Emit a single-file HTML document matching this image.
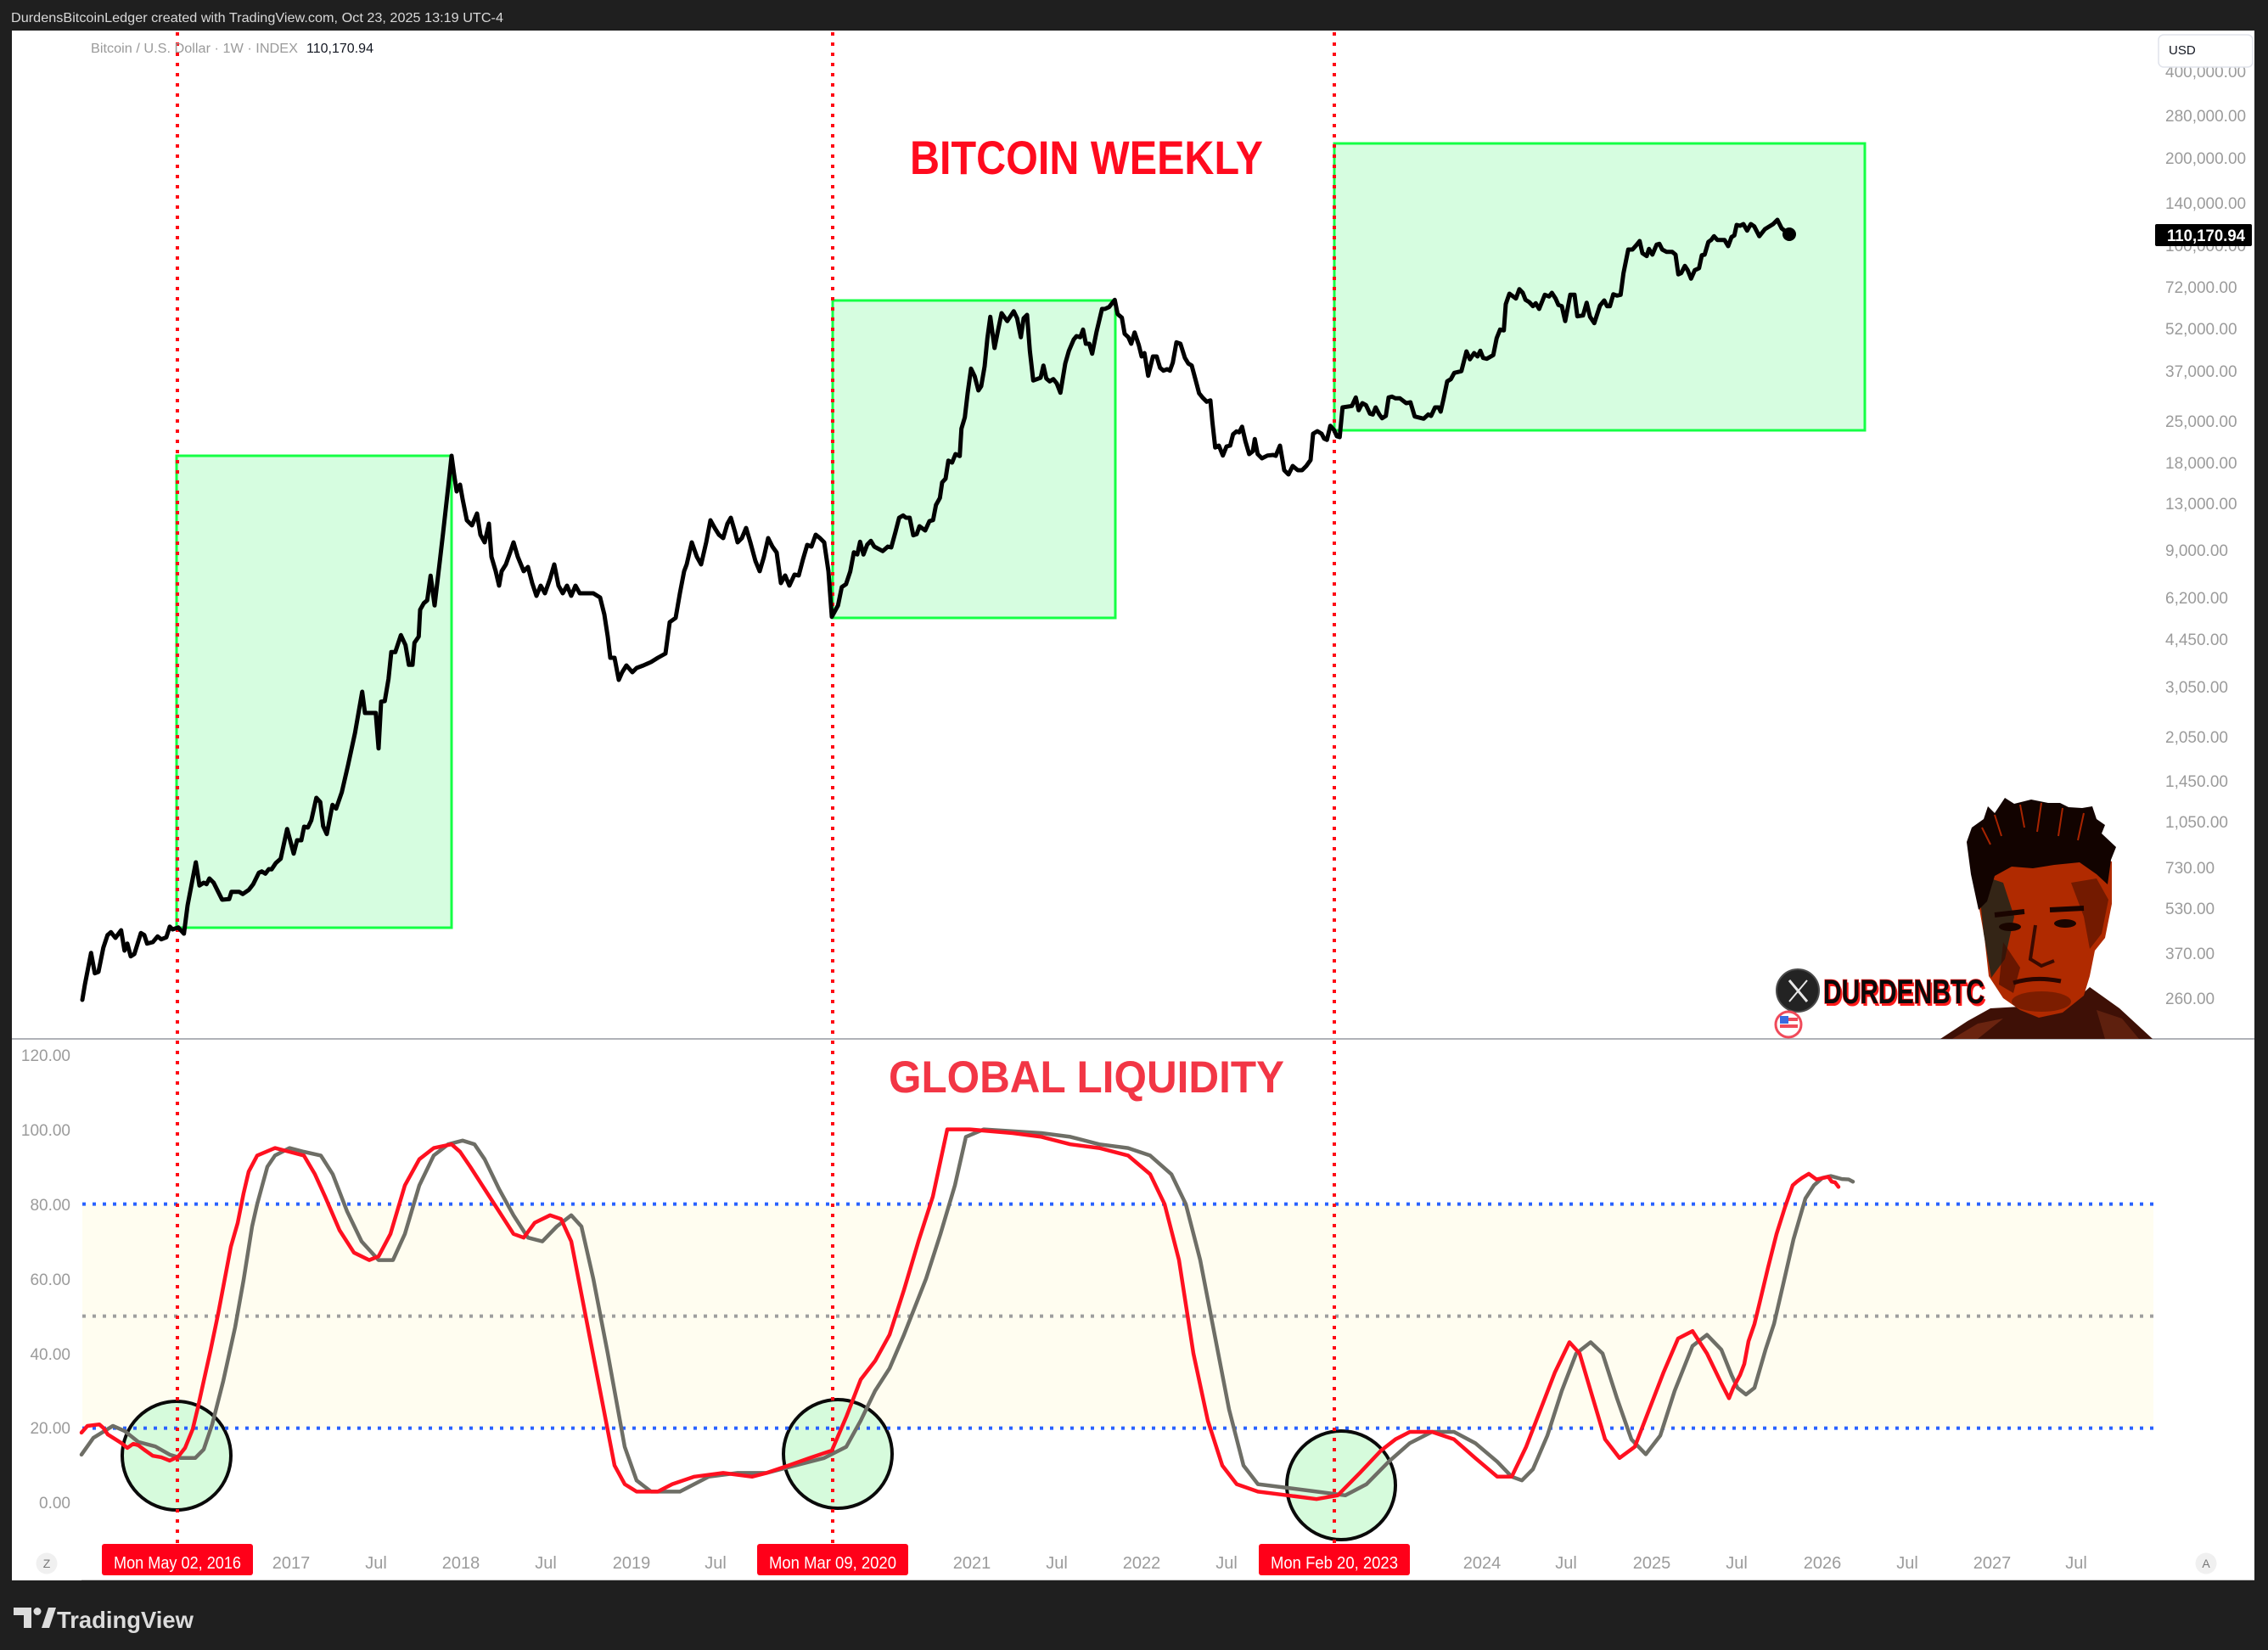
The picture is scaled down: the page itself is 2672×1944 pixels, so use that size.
<!DOCTYPE html>
<html>
<head>
<meta charset="utf-8">
<style>
html,body{margin:0;padding:0;background:#1f1f1f;}
svg{display:block;}
text{font-family:"Liberation Sans",sans-serif;}
</style>
</head>
<body>
<svg width="2672" height="1944" viewBox="0 0 2672 1944" xmlns="http://www.w3.org/2000/svg">
  <!-- frame -->
  <rect x="0" y="0" width="2672" height="1944" fill="#1f1f1f"/>
  <rect x="14" y="36" width="2642" height="1826" fill="#ffffff"/>

  <!-- header -->
  <text x="13" y="26" font-size="16" fill="#d8d8d8" textLength="580" lengthAdjust="spacingAndGlyphs">DurdensBitcoinLedger created with TradingView.com, Oct 23, 2025 13:19 UTC-4</text>

  <!-- lower pane yellow band -->
  <rect x="97" y="1418.6" width="2440" height="264" fill="#fffdf0"/>

  <!-- green boxes -->
  <rect x="208" y="537" width="324" height="556" fill="#d6fde0" stroke="#14ff44" stroke-width="3"/>
  <rect x="981" y="354" width="333" height="374" fill="#d6fde0" stroke="#14ff44" stroke-width="3"/>
  <rect x="1572" y="169" width="625" height="338" fill="#d6fde0" stroke="#14ff44" stroke-width="3"/>

  <!-- circles -->
  <circle cx="208" cy="1715" r="64" fill="#d6fbdc" stroke="#0a0a0a" stroke-width="4"/>
  <circle cx="987" cy="1713" r="64" fill="#d6fbdc" stroke="#0a0a0a" stroke-width="4"/>
  <circle cx="1580" cy="1750" r="64" fill="#d6fbdc" stroke="#0a0a0a" stroke-width="4"/>

  <!-- horizontal dotted levels -->
  <line x1="97" y1="1418.6" x2="2537" y2="1418.6" stroke="#2962ff" stroke-width="4" stroke-dasharray="4 8"/>
  <line x1="97" y1="1682.6" x2="2537" y2="1682.6" stroke="#2962ff" stroke-width="4" stroke-dasharray="4 8"/>
  <line x1="97" y1="1550.6" x2="2537" y2="1550.6" stroke="#9e9e9e" stroke-width="4" stroke-dasharray="4 8"/>

  <!-- red vertical dotted lines -->
  <line x1="209" y1="38" x2="209" y2="1819" stroke="#ff0a14" stroke-width="4" stroke-dasharray="4 8"/>
  <line x1="981" y1="38" x2="981" y2="1819" stroke="#ff0a14" stroke-width="4" stroke-dasharray="4 8"/>
  <line x1="1572" y1="38" x2="1572" y2="1819" stroke="#ff0a14" stroke-width="4" stroke-dasharray="4 8"/>

  <!-- pane divider -->
  <line x1="14" y1="1224" x2="2656" y2="1224" stroke="#9598a1" stroke-width="1.5"/>

  <!-- portrait -->
  <g>
    <path d="M2286,1224 L2318,1203 L2345,1188 L2380,1186 L2430,1192 L2462,1163 L2497,1188 L2536,1224 Z" fill="#3e1006"/>
    <path d="M2300,1224 L2330,1206 L2360,1200 L2330,1224 Z" fill="#6a2410"/>
    <path d="M2470,1190 L2500,1200 L2520,1224 L2480,1224 Z" fill="#5e200e"/>
    <path d="M2323,1015 L2330,1060 L2338,1105 L2343,1150 L2360,1176 L2380,1190 L2402,1199 L2430,1193 L2455,1173 L2462,1150 L2468,1120 L2480,1105 L2488,1065 L2488,1015 L2440,1004 L2380,1008 Z" fill="#b02a00"/>
    <path d="M2330,1030 L2360,1040 L2373,1080 L2362,1130 L2346,1152 L2337,1100 Z" fill="#1e241a" opacity="0.85"/>
    <path d="M2440,1040 L2470,1035 L2484,1060 L2476,1100 L2462,1118 L2455,1080 Z" fill="#5a1400" opacity="0.7"/>
    <path d="M2360,1110 L2380,1140 L2372,1170 L2355,1160 Z" fill="#3a0c00" opacity="0.6"/>
    <path d="M2317,992 L2323,975 L2337,965 L2342,950 L2350,958 L2362,940 L2373,947 L2393,942 L2413,946 L2427,946 L2437,951 L2453,952 L2465,950 L2470,965 L2480,972 L2476,982 L2493,998 L2487,1013 L2483,1042 L2470,1030 L2450,1016 L2420,1019 L2395,1023 L2370,1021 L2350,1032 L2341,1062 L2331,1072 L2322,1030 Z" fill="#120300"/>
    <path d="M2350,960 L2358,985 M2380,948 L2385,975 M2405,946 L2400,980 M2430,952 L2425,985 M2455,958 L2448,990 M2335,975 L2345,995" stroke="#a82400" stroke-width="2" fill="none"/>
    <path d="M2350,1078 L2385,1074" stroke="#1a0400" stroke-width="6"/>
    <path d="M2415,1072 L2455,1070" stroke="#1a0400" stroke-width="6"/>
    <ellipse cx="2368" cy="1092" rx="13" ry="5" fill="#1a0500"/>
    <ellipse cx="2433" cy="1088" rx="13" ry="5" fill="#1a0500"/>
    <path d="M2398,1090 L2392,1130 L2405,1138 L2420,1132" stroke="#3a0a00" stroke-width="4" fill="none"/>
    <path d="M2372,1158 Q2398,1150 2428,1156" stroke="#2a0600" stroke-width="5" fill="none"/>
    <ellipse cx="2405" cy="1180" rx="35" ry="12" fill="#5a1600" opacity="0.6"/>
  </g>

  <!-- X badge + name -->
  <circle cx="2118" cy="1167" r="25" fill="#232323" stroke="#4a4a4a" stroke-width="2"/>
  <line x1="2108" y1="1155" x2="2129" y2="1180" stroke="#e6e6e6" stroke-width="3"/>
  <line x1="2129" y1="1155" x2="2108" y2="1180" stroke="#e6e6e6" stroke-width="2"/>
  <text x="2150" y="1185" font-size="40" font-weight="bold" fill="#ff1a1a" textLength="190" lengthAdjust="spacingAndGlyphs">DURDENBTC</text>
  <text x="2148" y="1182" font-size="40" font-weight="bold" fill="#0a0a0a" stroke="#ff1a1a" stroke-width="1.5" paint-order="stroke" textLength="190" lengthAdjust="spacingAndGlyphs">DURDENBTC</text>
  <circle cx="2107" cy="1207" r="15" fill="#ffffff" stroke="#f04a5a" stroke-width="3"/>
  <rect x="2097" y="1199" width="21" height="4" fill="#f04a5a"/>
  <rect x="2097" y="1207" width="21" height="4" fill="#f04a5a"/>
  <rect x="2097" y="1197" width="10" height="9" fill="#3a6adf"/>

  <!-- price line -->
  <polyline fill="none" stroke="#000" stroke-width="5" stroke-linejoin="round" stroke-linecap="round" points="97,1178 100,1160 107.3,1122.7 111.7,1146.7 116,1145 121.7,1116.7 126.7,1101.7 130.7,1098.3 136,1105 142.7,1096 146.7,1120 150,1111.7 154,1126.7 158.3,1124 166,1099.3 170,1101.7 173.3,1111.7 180,1110 185.7,1103.3 190,1106.7 196,1104.3 200,1091.7 203.3,1095 210,1092.7 216.7,1100 221,1066.7 230.7,1016 235,1043.3 240,1040 243.3,1041.7 246.7,1035 251.7,1040 261.7,1060 270,1059.3 272.7,1050.7 281.7,1050.7 286,1053.3 293.3,1048.3 298.3,1041.7 305,1028.3 308.3,1026.7 312.7,1029.3 316.7,1024 320,1024.3 325,1016.7 330.7,1011.7 338.3,976.7 346,1005.7 350,990 355,990 358.3,974 362.7,975 366.7,966.7 372.7,940 377.3,945 380.7,973.3 385,982.7 391.7,948.3 396,952.7 402.7,933.3 410,901.7 418.3,863.3 426.7,815 430,840 442.7,840 446,881.7 449,826.7 453.3,826 457.7,800 461,768.3 465.7,768.3 472.3,748.3 477.7,760 481.7,783.3 486,783.3 488.3,757.3 493.3,750 495,718.3 499.3,710.7 503.3,707.3 507.3,678.3 512,713.3 518.3,660 522,628 526,592 529,565 532,537 535,559 538,579 542,571 545,588 550,613 556,619 562,605 566,630 571,639 576,617 579,656 584,673 588,690 591,673 596,665 602,648 605,639 610,656 617,673 622,668 627,687 632,702 637,690 642,699 648,682 653,665 658,690 663,699 668,690 673,702 678,690 683,699 690,699 699,699 707,704 712,724 716,750 719,775 724,775 729,801 733,792 738,784 745,792 750,787 758,784 767,780 775,775 784,770 789,733 796,728 801,699 806,673 809,665 815,639 821,656 826,665 832,639 837,613 842,622 847,630 852,634 857,617 861,610 866,627 869,639 874,634 879,622 884,639 890,661 895,673 900,656 905,634 910,644 915,651 920,687 925,678 930,690 936,677 941,678 946,659 951,642 956,644 961,630 966,634 971,639 976,673 980,726.7 987.3,713.3 991.7,691.7 996.7,688.3 1001.7,673.3 1006,650.7 1010,653.3 1013.3,638.3 1017.3,653.3 1021.7,641.7 1026,637.3 1030,644 1040,649.3 1046,644 1050,645 1055,626.7 1059.3,610 1064,607.3 1067.3,610 1071.7,610 1076,630.7 1080,629.3 1083.3,620 1090,625 1095,614 1099.3,612.7 1102.7,595 1107.3,586.7 1110,568.3 1114,564 1117.3,542.7 1121.7,545 1125.7,535 1130.7,537.3 1132.7,505 1136.7,491.7 1140,463.3 1144,434.3 1148.3,443.3 1152.7,460 1156,455 1160,431.7 1163.3,398.3 1166.7,373.3 1171.7,410 1176,388.3 1180,369 1186.7,378.3 1194.3,366.7 1198.3,375 1202.7,397.3 1206,375 1210,371 1213.3,413.3 1217.3,448.3 1226,445 1229.3,430.7 1232.7,446 1236.7,449.3 1241,446.7 1245,451.7 1249.3,462.7 1255,428.3 1259.3,413.3 1265,400 1268.3,396 1272.7,397.3 1276,388.3 1279.3,405 1283.3,405 1286.7,416.7 1291.7,391.7 1298.3,364 1301.7,364 1306.7,361.7 1313.3,353.3 1316.7,370 1321.7,374.3 1325,393.3 1329.3,397.3 1332.7,405 1336.7,391.7 1341.7,406.7 1345,420 1348.3,416 1352.7,442.7 1358.3,420 1362.7,420 1366.7,433.3 1370.7,436.7 1375,435 1378.3,436.7 1381.7,427.3 1386,403.3 1390.7,405 1396,421.7 1400,428.3 1404,430.7 1408.3,446.7 1412.7,463.3 1416.7,468.3 1421.7,473.3 1426,471.7 1428.3,496.7 1431.7,527.3 1436,525 1440.7,536.7 1445,526 1449.3,525 1452.7,511.7 1456.7,508.3 1460,509.3 1463.3,502.7 1467.3,520 1471.7,535 1476,531.7 1478.3,517.3 1481.7,535 1486.7,540 1493.3,536.7 1500,536 1503,537 1508,525 1513,554 1518,559 1523,549 1529,554 1534,554 1539,549 1544,542 1547,511 1552,508 1557,511 1560,516.7 1563.3,518.3 1567.3,501.7 1571.7,506.7 1575,514 1578.3,515 1581.7,480 1592.7,478.3 1597.3,468.3 1600.7,483.3 1605,475 1609.3,477.3 1614,487.3 1617.3,488.3 1620.7,480 1625,488.3 1628.3,492.7 1632.7,490 1636,468.3 1640,467.3 1644,469.3 1649.3,469.3 1656.7,475 1661.7,474 1666.7,490.7 1677.3,493.3 1682.7,488.3 1686,490 1690.7,480 1695,480 1697.3,485 1700.7,470 1705,449.3 1709.3,446.7 1713.3,439.3 1721.7,437.3 1727.7,414 1731.7,423.3 1736.7,416 1740.7,420 1744,413.3 1747.3,421.7 1751.7,422.7 1759.3,418.3 1763.3,398.3 1767.3,388.3 1771.7,389.3 1774,358.3 1778.3,346 1786,351.7 1790,340.7 1794,345 1797.3,353.3 1801.7,356 1806,360.7 1809.3,357.3 1813.3,364 1820,347.3 1825,349.3 1828.3,345 1832.7,351.7 1836,359.3 1840,360.7 1844,378.3 1850,347.3 1855,347.3 1858.3,372.7 1865,371.7 1869.3,356.7 1873.3,373.3 1878.3,380.7 1885,360 1890,354 1893.3,360.7 1896.7,360.7 1900.7,346.7 1905,348.3 1909.3,347.3 1912.7,321.7 1918.3,294 1923.3,294 1928.3,288.3 1931.7,284 1935,298.3 1940,301.7 1942.7,293.3 1946.7,300 1951.7,288.3 1955,287.3 1958.3,294 1963.3,296.7 1970,296.7 1974,300 1977.3,323.3 1980.7,321.7 1985,313.3 1988.3,318.3 1992.3,328.3 1996.7,318.3 2001.7,316 2005,300.7 2008.3,300 2012.7,285 2016,282.7 2019.3,278.3 2023.3,282.7 2031.7,282.7 2036,290 2040,279.3 2043.3,277.3 2046,265 2050,266 2054,264 2058.3,271.7 2062.7,264 2066.7,266.7 2072.7,278.3 2079.3,270 2089,264 2094,259 2099,269 2104,273 2108,276"/>
  <circle cx="2108" cy="276" r="8" fill="#000"/>

  <!-- liquidity lines (x, value) -->
  <g transform="translate(0,1770.6) scale(1,-4.4)">
    <polyline fill="none" stroke="#6e6e66" stroke-width="4.5" stroke-linejoin="round" stroke-linecap="round" vector-effect="non-scaling-stroke" points="96,12.9 110,17.4 133,20.6 147,19.2 163,16.3 183,15.1 200,12.9 213,12 230,12 240,14.3 250,21 263,32.6 277,47 287,59.7 297,74 303,80 315,90 324,93 341,95 358,94 378,93 392,88 409,78 426,70 446,65 463,65 477,72 494,85 511,93 528,96 545,97 559,96 571,92 588,84 605,77 622,71 639,70 656,74 673,77 685,74 699,60 716,40 736,15 750,6 767,3 801,3 835,7 869,8 903,8 937,10 971,12 997,15 1014,22 1031,30 1048,36 1065,45 1091,60 1108,72 1125,85 1138,98 1159,100 1227,99 1261,98 1295,96 1329,95 1355,93 1380,88 1397,80 1414,65 1431,45 1448,25 1465,10 1482,5 1517,4 1551,3 1585,2 1610,5 1636,11 1661,16 1687,19 1713,19 1738,16 1764,11 1781,7 1793,6 1806,9 1823,18 1840,30 1857,40 1874,43 1888,40 1905,28 1922,17 1939,13 1956,18 1973,30 1994,42 2011,45 2028,41 2040,34.2 2047,30.8 2057,29 2067,30.8 2080,41 2090,47.9 2100,57.7 2113,70.6 2127,81.5 2137,85 2147,87 2157,87.5 2170,86.7 2178,86.6 2183,86"/>
    <polyline fill="none" stroke="#ff1020" stroke-width="4.5" stroke-linejoin="round" stroke-linecap="round" vector-effect="non-scaling-stroke" points="96,18.8 103,20.6 117,21 122,20 127,18.3 143,16 150,14.7 157,15.8 163,15.4 170,14.2 180,12.6 190,12.2 200,11.3 210,12.4 218,14.7 227,19.7 233,25.4 240,32.6 248,40.8 257,50.6 263,57.8 272,68.6 280,74.9 287,82.9 293,88.7 303,93 324,95 341,94 358,93 371,88 383,82 400,73 417,67 435,65 446,66 460,72 477,85 494,92 511,95 532,96 542,94 554,90 571,84 588,78 605,72 617,71 630,75 648,77 661,76 673,70 690,50 707,30 724,10 736,5 750,3 775,3 792,5 818,7 852,8 886,7 903,8 929,10 954,12 980,14 997,23 1014,33 1031,38 1048,45 1065,57 1082,70 1099,82 1116,100 1142,100 1193,99 1227,98 1261,96 1295,95 1329,93 1355,88 1372,80 1389,65 1406,40 1423,22 1440,10 1457,5 1482,3 1517,2 1551,1 1576,2 1602,8 1627,14 1644,17 1661,19 1687,19 1713,17 1738,12 1764,7 1781,7 1798,15 1815,25 1832,35 1849,43 1861,40 1874,30 1891,17 1908,12 1926,15 1943,25 1960,35 1977,44 1994,46 2011,40 2028,32 2037,28 2042,30.8 2050,34.2 2055,37.2 2060,43.3 2067,47.9 2073,53.5 2083,63 2093,72 2103,79.2 2112,85 2117,86 2123,87 2131,88.1 2140,86.6 2148,87 2154,87.3 2158,86 2162,85.8 2166,84.6"/>
  </g>

  <!-- titles -->
  <text x="1072" y="205" font-size="56" font-weight="bold" fill="#ff0a1e" textLength="416" lengthAdjust="spacingAndGlyphs">BITCOIN WEEKLY</text>
  <text x="1047" y="1287" font-size="53" font-weight="bold" fill="#f23645" textLength="466" lengthAdjust="spacingAndGlyphs">GLOBAL LIQUIDITY</text>

  <!-- symbol legend -->
  <text x="107" y="62" font-size="15.5" fill="#9a9a9a" textLength="244" lengthAdjust="spacingAndGlyphs">Bitcoin / U.S. Dollar · 1W · INDEX</text>
  <text x="361" y="62" font-size="15.5" fill="#131722" textLength="79" lengthAdjust="spacingAndGlyphs">110,170.94</text>

  <!-- right price axis -->
  <g font-size="19" fill="#9b9b9b">
    <text x="2551" y="91">400,000.00</text>
    <text x="2551" y="143">280,000.00</text>
    <text x="2551" y="193">200,000.00</text>
    <text x="2551" y="246">140,000.00</text>
    <text x="2551" y="296">100,000.00</text>
    <text x="2551" y="345">72,000.00</text>
    <text x="2551" y="394">52,000.00</text>
    <text x="2551" y="444">37,000.00</text>
    <text x="2551" y="503">25,000.00</text>
    <text x="2551" y="552">18,000.00</text>
    <text x="2551" y="600">13,000.00</text>
    <text x="2551" y="655">9,000.00</text>
    <text x="2551" y="711">6,200.00</text>
    <text x="2551" y="760">4,450.00</text>
    <text x="2551" y="816">3,050.00</text>
    <text x="2551" y="875">2,050.00</text>
    <text x="2551" y="927">1,450.00</text>
    <text x="2551" y="975">1,050.00</text>
    <text x="2551" y="1029">730.00</text>
    <text x="2551" y="1077">530.00</text>
    <text x="2551" y="1130">370.00</text>
    <text x="2551" y="1183">260.00</text>
  </g>
  <!-- USD box -->
  <rect x="2543" y="41" width="111" height="38" rx="6" fill="#ffffff" stroke="#e0e3eb" stroke-width="1.5"/>
  <text x="2555" y="64" font-size="15" fill="#131722">USD</text>
  <!-- last price label -->
  <rect x="2539" y="264" width="114" height="26" rx="2" fill="#000000"/>
  <text x="2553" y="284" font-size="19" font-weight="bold" fill="#ffffff" textLength="92" lengthAdjust="spacingAndGlyphs">110,170.94</text>

  <!-- left axis lower pane -->
  <g font-size="19" fill="#9b9b9b" text-anchor="end">
    <text x="83" y="1250">120.00</text>
    <text x="83" y="1338">100.00</text>
    <text x="83" y="1426">80.00</text>
    <text x="83" y="1514">60.00</text>
    <text x="83" y="1602">40.00</text>
    <text x="83" y="1689">20.00</text>
    <text x="83" y="1777">0.00</text>
  </g>

  <!-- time axis -->
  <g font-size="20" fill="#9b9b9b" text-anchor="middle">
    <text x="343" y="1848">2017</text>
    <text x="443" y="1848">Jul</text>
    <text x="543" y="1848">2018</text>
    <text x="643" y="1848">Jul</text>
    <text x="744" y="1848">2019</text>
    <text x="843" y="1848">Jul</text>
    <text x="1145" y="1848">2021</text>
    <text x="1245" y="1848">Jul</text>
    <text x="1345" y="1848">2022</text>
    <text x="1445" y="1848">Jul</text>
    <text x="1746" y="1848">2024</text>
    <text x="1845" y="1848">Jul</text>
    <text x="1946" y="1848">2025</text>
    <text x="2046" y="1848">Jul</text>
    <text x="2147" y="1848">2026</text>
    <text x="2247" y="1848">Jul</text>
    <text x="2347" y="1848">2027</text>
    <text x="2446" y="1848">Jul</text>
  </g>
  <!-- date boxes -->
  <rect x="120" y="1819" width="178" height="37" rx="3" fill="#ff0019"/>
  <text x="209" y="1848" font-size="20" fill="#ffffff" text-anchor="middle" textLength="150" lengthAdjust="spacingAndGlyphs">Mon May 02, 2016</text>
  <rect x="892" y="1819" width="178" height="37" rx="3" fill="#ff0019"/>
  <text x="981" y="1848" font-size="20" fill="#ffffff" text-anchor="middle" textLength="150" lengthAdjust="spacingAndGlyphs">Mon Mar 09, 2020</text>
  <rect x="1483" y="1819" width="178" height="37" rx="3" fill="#ff0019"/>
  <text x="1572" y="1848" font-size="20" fill="#ffffff" text-anchor="middle" textLength="150" lengthAdjust="spacingAndGlyphs">Mon Feb 20, 2023</text>

  <!-- Z / A buttons -->
  <circle cx="55" cy="1842" r="12.5" fill="#f0f0f0"/>
  <text x="55" y="1847" font-size="14" fill="#777" text-anchor="middle">Z</text>
  <circle cx="2599" cy="1842" r="12.5" fill="#f0f0f0"/>
  <text x="2599" y="1847" font-size="14" fill="#777" text-anchor="middle">A</text>

  <line x1="96" y1="1861.5" x2="2656" y2="1861.5" stroke="#c8c8c8" stroke-width="1"/>

  <!-- TradingView logo -->
  <g fill="#dcdcdc">
    <path d="M16,1894 L37,1894 L37,1918 L28,1918 L28,1903 L16,1903 Z"/>
    <circle cx="44" cy="1898.5" r="4.5"/>
    <path d="M49,1918 L57,1894 L66,1894 L58,1918 Z"/>
  </g>
  <text x="67" y="1918" font-size="28" font-weight="bold" fill="#dcdcdc" textLength="161" lengthAdjust="spacingAndGlyphs">TradingView</text>
</svg>
</body>
</html>
